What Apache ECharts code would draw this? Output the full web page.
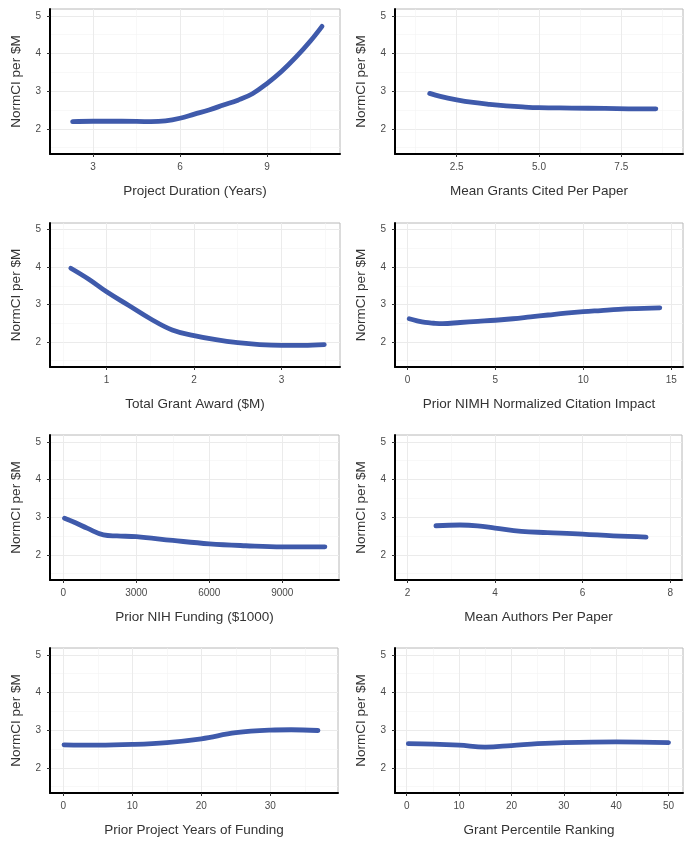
<!DOCTYPE html>
<html>
<head>
<meta charset="utf-8">
<script src="https://cdn.jsdelivr.net/npm/echarts@6/dist/echarts.min.js"></script>
<style>
html,body{margin:0;padding:0;background:#fff;}
#chart{width:693px;height:846px;}
</style>
</head>
<body>
<div id="chart"></div>
<script>
// ---- data ----
const xTitles = [
  'Project Duration (Years)', 'Mean Grants Cited Per Paper',
  'Total Grant Award ($M)', 'Prior NIMH Normalized Citation Impact',
  'Prior NIH Funding ($1000)', 'Mean Authors Per Paper',
  'Prior Project Years of Funding', 'Grant Percentile Ranking'
];
const yTitle = 'NormCI per $M';
const yTicks = [2, 3, 4, 5];
const yMinor = [1.5, 2.5, 3.5, 4.5];

const p1X = [2.3, 3, 4, 5, 5.5, 6, 6.5, 7, 7.5, 8, 8.5, 9, 9.5, 10, 10.5, 10.9];
const p1Y = [2.19, 2.2, 2.2, 2.19, 2.21, 2.28, 2.39, 2.5, 2.63, 2.76, 2.93, 3.2, 3.52, 3.9, 4.33, 4.72];
const p2X = [1.68, 2, 2.5, 3, 3.5, 4, 4.5, 5, 6, 7, 8, 8.55];
const p2Y = [2.94, 2.86, 2.77, 2.7, 2.65, 2.61, 2.58, 2.56, 2.55, 2.54, 2.53, 2.53];
const p3X = [0.59, 0.8, 1.0, 1.25, 1.5, 1.75, 2.0, 2.25, 2.5, 2.75, 3.0, 3.25, 3.49];
const p3Y = [3.97, 3.67, 3.34, 2.98, 2.62, 2.32, 2.17, 2.06, 1.98, 1.93, 1.91, 1.91, 1.93];
const p4X = [0.1, 0.5, 1, 1.5, 2, 3, 4, 5, 6, 7, 8, 9, 10, 11, 12, 13, 14.35];
const p4Y = [2.62, 2.57, 2.52, 2.5, 2.49, 2.52, 2.55, 2.58, 2.62, 2.67, 2.72, 2.77, 2.81, 2.84, 2.87, 2.89, 2.91];
const p5X = [50, 500, 1000, 1650, 2200, 3000, 4500, 6000, 7500, 9000, 10750];
const p5Y = [2.97, 2.85, 2.7, 2.53, 2.5, 2.48, 2.38, 2.29, 2.24, 2.21, 2.21];
const p6X = [2.65, 3.2, 3.6, 4.0, 4.6, 5.2, 6.0, 6.7, 7.45];
const p6Y = [2.77, 2.79, 2.77, 2.71, 2.62, 2.59, 2.55, 2.5, 2.47];
const p7X = [0.1, 5, 10, 15, 20, 25, 30, 33, 36.9];
const p7Y = [2.61, 2.6, 2.62, 2.67, 2.77, 2.93, 3.0, 3.01, 2.99];
const p8X = [0.3, 5, 10, 15, 20, 25, 30, 40, 50];
const p8Y = [2.64, 2.63, 2.6, 2.55, 2.59, 2.64, 2.67, 2.69, 2.67];

const xTicks = [
  [3, 6, 9], [2.5, 5, 7.5], [1, 2, 3], [0, 5, 10, 15],
  [0, 3000, 6000, 9000], [2, 4, 6, 8], [0, 10, 20, 30], [0, 10, 20, 30, 40, 50]
];
const xTickLabels = [
  ['3', '6', '9'], ['2.5', '5.0', '7.5'], ['1', '2', '3'], ['0', '5', '10', '15'],
  ['0', '3000', '6000', '9000'], ['2', '4', '6', '8'], ['0', '10', '20', '30'],
  ['0', '10', '20', '30', '40', '50']
];
const xMinor = [
  [4.5, 7.5, 10.5], [1.25, 3.75, 6.25, 8.75], [0.5, 1.5, 2.5, 3.5], [2.5, 7.5, 12.5],
  [1500, 4500, 7500, 10500], [3, 5, 7], [5, 15, 25, 35], [5, 15, 25, 35, 45]
];
const xRanges = [
  [1.52, 11.52], [0.625, 9.375], [0.352, 3.67], [-0.71, 15.67],
  [-547, 11330], [1.716, 8.27], [-1.93, 39.8], [-2.24, 52.76]
];
const yRange = [1.33, 5.18];
const seriesX = [p1X, p2X, p3X, p4X, p5X, p6X, p7X, p8X];
const seriesY = [p1Y, p2Y, p3Y, p4Y, p5Y, p6Y, p7Y, p8Y];

// ---- layout ----
const layout = [
  {left: 50, top: 9, width: 290, height: 145},
  {left: 395, top: 9, width: 288, height: 145},
  {left: 50, top: 223, width: 290, height: 144},
  {left: 395, top: 223, width: 288, height: 144},
  {left: 50, top: 435, width: 289, height: 145},
  {left: 395, top: 435, width: 287, height: 145},
  {left: 50, top: 648, width: 288, height: 145},
  {left: 395, top: 648, width: 288, height: 145}
];
const FONT = '"Liberation Sans", Arial, Helvetica, sans-serif';
const LINE_COLOR = '#3f5aab';

const grids = [], xAxes = [], yAxes = [], series = [];
layout.forEach((g, i) => {
  grids.push({
    left: g.left, top: g.top, width: g.width, height: g.height,
    show: true, borderColor: '#b8b8b8', borderWidth: 1, backgroundColor: '#fff'
  });
  const ticks = xTicks[i], labs = xTickLabels[i];
  // main x axis
  xAxes.push({
    type: 'value', gridIndex: i, position: 'bottom',
    min: xRanges[i][0], max: xRanges[i][1],
    name: xTitles[i], nameLocation: 'middle', nameGap: 30,
    nameTextStyle: {fontFamily: FONT, fontSize: 13.5, color: '#333'},
    axisLine: {show: true, onZero: false, lineStyle: {color: '#000', width: 2}},
    axisTick: {show: true, length: 3, customValues: ticks, lineStyle: {color: '#333', width: 1}},
    axisLabel: {
      show: true, margin: 8, customValues: ticks, fontFamily: FONT, fontSize: 10, color: '#4a4a4a',
      formatter: v => { const k = ticks.indexOf(v); return k >= 0 ? labs[k] : String(v); }
    },
    splitLine: {show: true, lineStyle: {color: '#ebebeb', width: 1}}
  });
  // minor grid x axis
  xAxes.push({
    type: 'value', gridIndex: i, position: 'top',
    min: xRanges[i][0], max: xRanges[i][1],
    axisLine: {show: false}, axisLabel: {show: false},
    axisTick: {show: false, customValues: xMinor[i]},
    splitLine: {show: true, lineStyle: {color: '#f4f4f4', width: 0.6}}
  });
  yAxes.push({
    type: 'value', gridIndex: i, position: 'left',
    min: yRange[0], max: yRange[1],
    name: yTitle, nameLocation: 'middle', nameGap: 27, nameRotate: 90,
    nameTextStyle: {fontFamily: FONT, fontSize: 13.5, color: '#333'},
    axisLine: {show: true, onZero: false, lineStyle: {color: '#000', width: 2}},
    axisTick: {show: true, length: 3, customValues: yTicks, lineStyle: {color: '#333', width: 1}},
    axisLabel: {show: true, margin: 9, customValues: yTicks, fontFamily: FONT, fontSize: 10, color: '#4a4a4a'},
    splitLine: {show: true, lineStyle: {color: '#ebebeb', width: 1}}
  });
  yAxes.push({
    type: 'value', gridIndex: i, position: 'right',
    min: yRange[0], max: yRange[1],
    axisLine: {show: false}, axisLabel: {show: false},
    axisTick: {show: false, customValues: yMinor},
    splitLine: {show: true, lineStyle: {color: '#f4f4f4', width: 0.6}}
  });
  series.push({
    type: 'line', xAxisIndex: 2 * i, yAxisIndex: 2 * i,
    data: seriesX[i].map((x, k) => [x, seriesY[i][k]]),
    smooth: 0.4, showSymbol: false, symbol: 'none',
    lineStyle: {color: LINE_COLOR, width: 4.8, cap: 'round'},
    silent: true, animation: false
  });
});

const chart = echarts.init(document.getElementById('chart'), null, {renderer: 'canvas'});
chart.setOption({
  backgroundColor: '#fff',
  animation: false,
  grid: grids, xAxis: xAxes, yAxis: yAxes, series: series
});
</script>
</body>
</html>
